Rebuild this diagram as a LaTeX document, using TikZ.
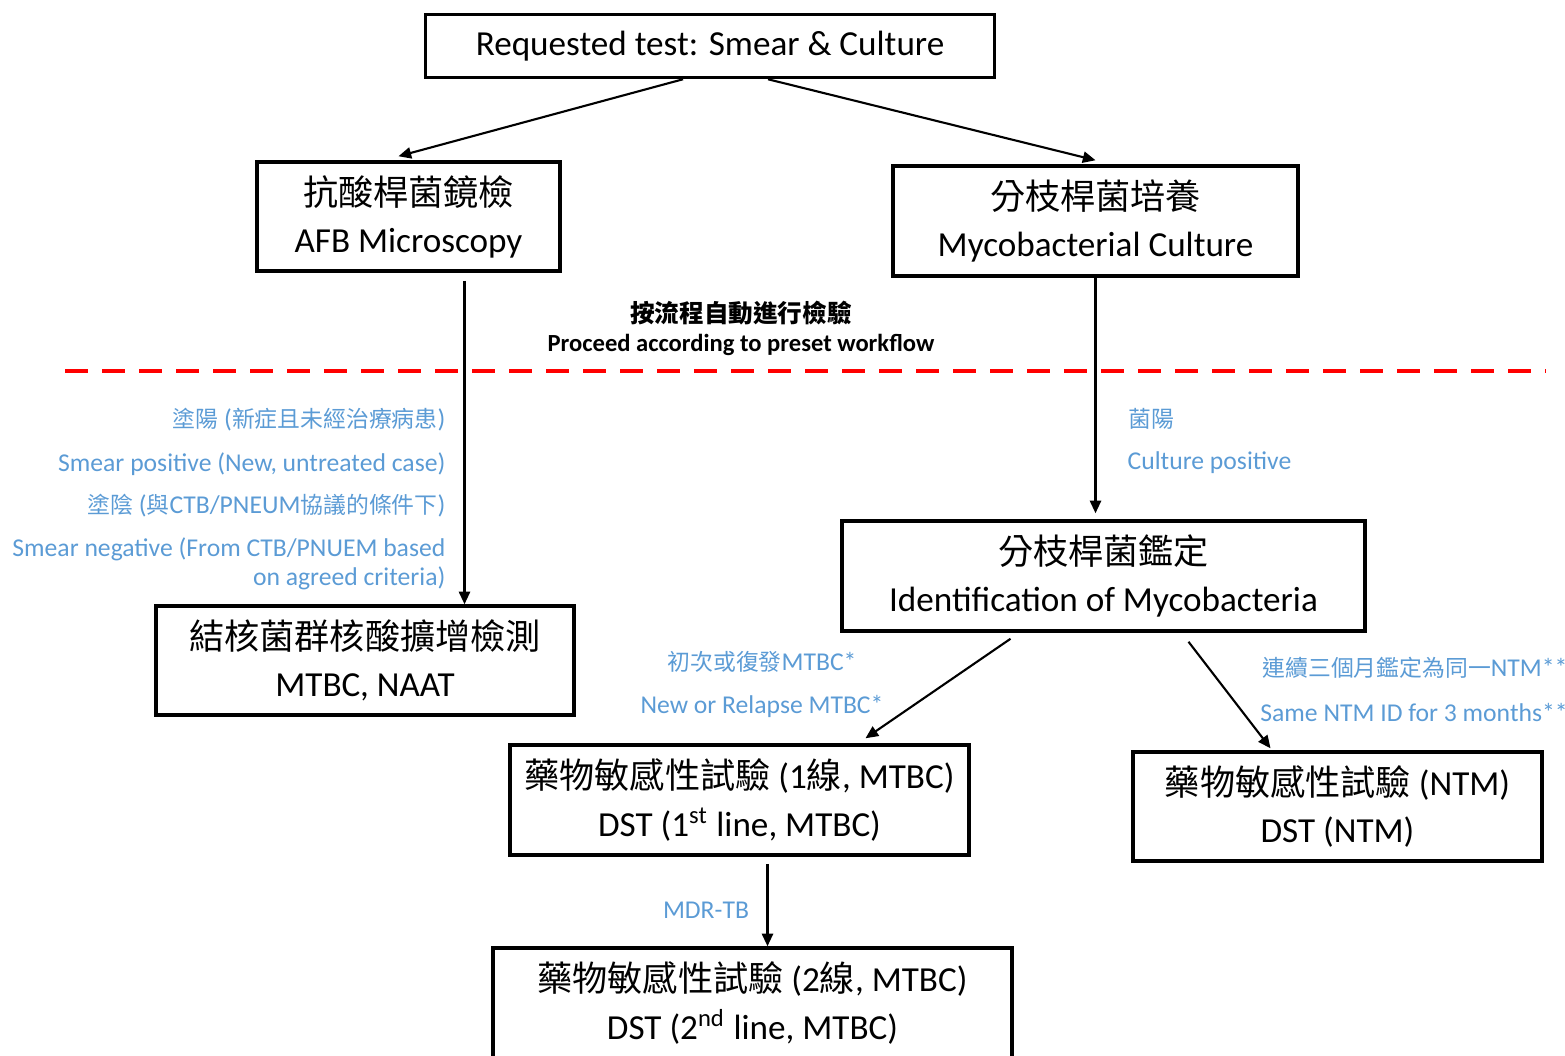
\documentclass[tikz,border=0pt]{standalone}
\usepackage{fontspec}
\setmainfont{Carlito}
\newfontfamily\cjk{Noto Sans CJK TC}
\newfontfamily\cjksmall{Noto Sans CJK TC}[Scale=0.89]
\usetikzlibrary{calc,arrows.meta}
\definecolor{lblblue}{HTML}{5B9BD5}
\definecolor{sepred}{HTML}{FF0000}
\newcommand{\zh}[1]{{\cjk #1}}
\newcommand{\zhl}[1]{{\cjksmall #1}}

\tikzset{
	box/.style={draw, line width=1pt, align=center, inner sep=0pt, font=\fontsize{10}{13.4}\selectfont},
	arr/.style={line width=0.6pt, -{Triangle[length=3.6pt,width=3.2pt]}},
	lbl/.style={text=lblblue, inner sep=0pt, font=\fontsize{7.3}{8.25}\selectfont},
}

\begin{document}
\begin{tikzpicture}
			%%%%% START %%%%%
			\def\W{15.65}
			\def\H{10.55}
			\def\ysep{6.84}
			\useasboundingbox (0,0) rectangle (\W,\H);

			% boxes
			\node[box, minimum width=5.69cm, minimum height=0.63cm] (req) at (7.10,10.09) {Requested test: Smear \& Culture};
			\node[box, minimum width=3.03cm, minimum height=1.09cm] (afb) at (4.085,8.385) {\zh{抗酸桿菌鏡檢}\\AFB Microscopy};
			\node[box, minimum width=4.05cm, minimum height=1.10cm] (cult) at (10.955,8.34) {\zh{分枝桿菌培養}\\Mycobacterial Culture};
			\node[box, minimum width=4.18cm, minimum height=1.09cm] (naat) at (3.65,3.945) {\zh{結核菌群核酸擴增檢測}\\MTBC, NAAT};
			\node[box, minimum width=5.23cm, minimum height=1.10cm] (ident) at (11.035,4.79) {\zh{分枝桿菌鑑定}\\Identification of Mycobacteria};
			\node[box, minimum width=4.59cm, minimum height=1.10cm] (dstone) at (7.395,2.55) {\zh{藥物敏感性試驗} (1\zh{線}, MTBC)\\DST (1\textsuperscript{st} line, MTBC)};
			\node[box, minimum width=4.09cm, minimum height=1.09cm] (dstntm) at (13.375,2.485) {\zh{藥物敏感性試驗} (NTM)\\DST (NTM)};
			\node[box, minimum width=5.19cm, minimum height=1.10cm] (dsttwo) at (7.525,0.52) {\zh{藥物敏感性試驗} (2\zh{線}, MTBC)\\DST (2\textsuperscript{nd} line, MTBC)};

			% preset workflow
			\node[inner sep=0pt, font=\fontsize{7}{8}\selectfont\bfseries] (flowzh) at (7.41,7.42) {\zh{按流程自動進行檢驗}};
			\node[inner sep=0pt, font=\fontsize{7}{8}\selectfont\bfseries] (flowen) at (7.41,7.10) {Proceed according to preset workflow};
			\coordinate (sepL) at (0.65,\ysep);
			\coordinate (sepR) at (15.45,\ysep);
			\draw[sepred, line width=1.3pt, dash pattern=on 0.23cm off 0.14cm] (sepL) -- (sepR);

			% arrows
			\draw[arr] ([xshift=-0.27cm]req.south) -- ([xshift=-0.10cm,yshift=0.04cm]afb.north);
			\draw[arr] ([xshift=0.58cm]req.south) -- ([yshift=0.04cm]cult.north);
			\draw[arr, shorten <=0.08cm] ([xshift=0.56cm]afb.south) -- ([xshift=0.56cm]afb.south |- naat.north);
			\draw[arr, shorten >=0.06cm] (cult.south) -- (cult.south |- ident.north);
			\draw[arr] ([xshift=-0.93cm,yshift=-0.06cm]ident.south) -- ([xshift=1.26cm,yshift=0.05cm]dstone.north);
			\draw[arr] ([xshift=0.85cm,yshift=-0.09cm]ident.south) -- ([xshift=-0.67cm,yshift=0.02cm]dstntm.north);
			\draw[arr, shorten <=0.07cm] ([xshift=0.28cm]dstone.south) -- ([xshift=0.28cm]dstone.south |- dsttwo.north);

			% labels
			\node[lbl, anchor=east] (smposzh) at (4.46,6.35) {\zhl{塗陽} (\zhl{新症且未經治療病患})};
			\node[lbl, anchor=east] (smposen) at (4.46,5.91) {Smear positive (New, untreated case)};
			\node[lbl, anchor=east] (smnegzh) at (4.46,5.49) {\zhl{塗陰} (\zhl{與}CTB/PNEUM\zhl{協議的條件下})};
			\node[lbl, anchor=east, align=right] (smnegen) at (4.46,4.915) {Smear negative (From CTB/PNUEM based\\on agreed criteria)};
			\node[lbl, anchor=west] (cposzh) at (11.28,6.36) {\zhl{菌陽}};
			\node[lbl, anchor=west] (cposen) at (11.27,5.92) {Culture positive};
			\node[lbl] (newzh) at (7.62,3.93) {\zhl{初次或復發}MTBC*};
			\node[lbl] (newen) at (7.62,3.49) {New or Relapse MTBC*};
			\node[lbl] (ntmzh) at (14.15,3.87) {\zhl{連續三個月鑑定為同一}NTM**};
			\node[lbl] (ntmen) at (14.14,3.43) {Same NTM ID for 3 months**};
			\node[lbl] (mdr) at (7.06,1.45) {MDR-TB};
			%%%%% END %%%%%
\end{tikzpicture}
\end{document}
